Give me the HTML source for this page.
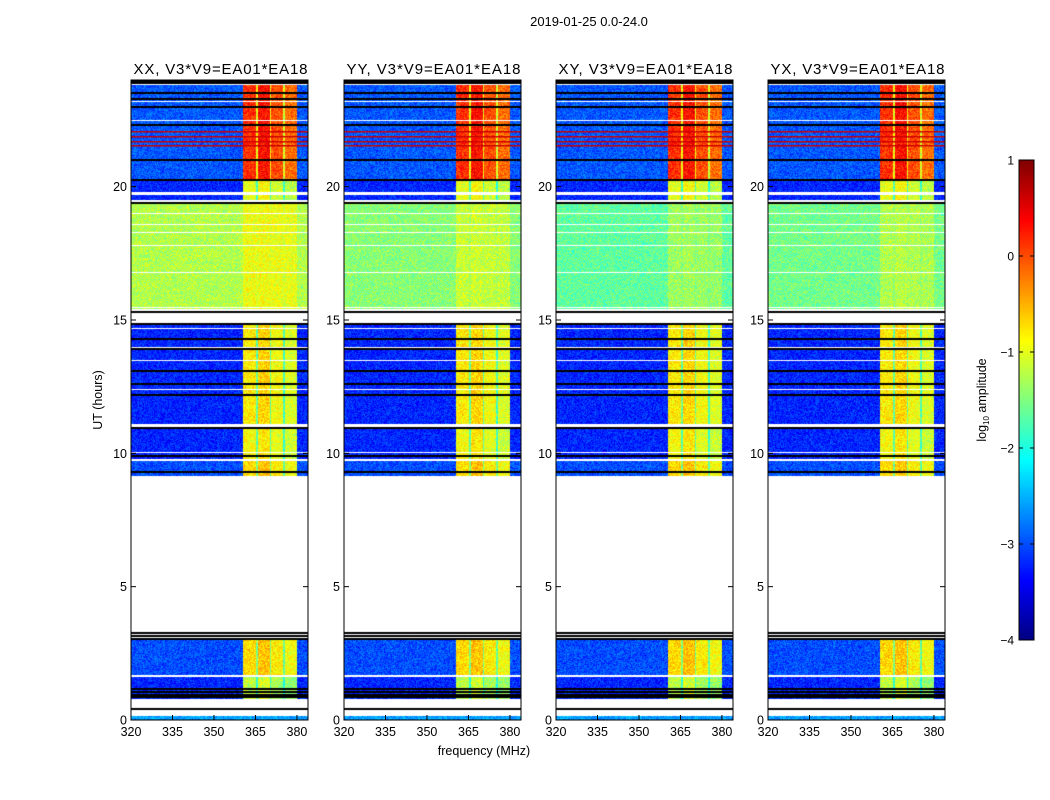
<!DOCTYPE html>
<html><head><meta charset="utf-8"><style>
body{margin:0;background:#fff;width:1050px;height:800px;overflow:hidden;font-family:"Liberation Sans",sans-serif}
#wrap{position:relative;width:1050px;height:800px}
canvas{position:absolute}
svg{position:absolute;left:0;top:0}
</style></head><body>
<div id="wrap">
<canvas id="c0" width="177" height="640" style="left:131px;top:80px"></canvas>
<canvas id="c1" width="177" height="640" style="left:344px;top:80px"></canvas>
<canvas id="c2" width="177" height="640" style="left:556px;top:80px"></canvas>
<canvas id="c3" width="177" height="640" style="left:768px;top:80px"></canvas>
<canvas id="cb" width="15" height="480" style="left:1019px;top:160px"></canvas>
<svg id="ov" width="1050" height="800"></svg>
</div>
<script>
// ---- data ----
const panelTitles=["XX, V3*V9=EA01*EA18","YY, V3*V9=EA01*EA18","XY, V3*V9=EA01*EA18","YX, V3*V9=EA01*EA18"];
const segStart=[0.0,0.8,1.7,9.15,9.8,10.05,11.1,15.4,19.5,19.8,20.3];
const segEnd  =[0.15,1.6,3.0,9.7,10.0,10.9,14.85,19.35,19.7,20.2,23.8];
const segLevelXX=[-2.6,-3.2,-3.0,-3.0,-3.2,-3.2,-3.2,-1.25,-3.2,-3.2,-2.95];
const segLevelYY=[-2.6,-3.2,-3.0,-3.0,-3.2,-3.2,-3.2,-1.45,-3.2,-3.2,-2.95];
const segLevelXY=[-2.6,-3.2,-3.0,-3.0,-3.2,-3.2,-3.2,-1.65,-3.2,-3.2,-2.95];
const segLevelYX=[-2.6,-3.2,-3.0,-3.0,-3.2,-3.2,-3.2,-1.55,-3.2,-3.2,-2.95];
const segBandBoost=[0,2.0,2.3,2.3,2.3,2.3,2.4,0.3,2.2,2.2,3.1];
const bandStart=[360.5,365.2,365.8,370.2,370.8,375.0,375.6];
const bandEnd  =[365.2,365.8,370.2,370.8,375.0,375.6,380.0];
const bandFactor=[1.0,0.65,1.05,0.65,0.95,0.6,0.9];
const blackLines=[0.42,0.85,0.95,1.05,1.15,3.05,3.15,3.25,9.3,9.9,10.95,12.2,12.6,13.1,13.9,14.3,14.85,15.3,19.4,20.25,21.0,22.3,23.0,23.3,23.5,23.9,23.97];
const redLines=[21.55,21.7,21.9,22.1];
const whiteLines=[11.0,12.4,13.5,14.0,14.7,15.5,16.8,17.8,18.3,18.6,19.0,22.5,23.2];
const levels=[segLevelXX,segLevelYY,segLevelXY,segLevelYX];
const xTicks=[320,335,350,365,380];
const yTicks=[0,5,10,15,20];
const cbTicks=[1,0,-1,-2,-3,-4];
// ---- scales ----
const W=177,H=640,F0=320,F1=384,T1=24;
const fx=f=>(f-F0)/(F1-F0)*W;
const ty=t=>H-t/T1*H;
function jet(v){v=Math.max(0,Math.min(1,v));
 const r=Math.min(4*v-1.5,-4*v+4.5),g=Math.min(4*v-0.5,-4*v+3.5),b=Math.min(4*v+0.5,-4*v+2.5);
 const c=x=>Math.round(255*Math.max(0,Math.min(1,x)));return [c(r),c(g),c(b)];}
function hash(a,b){let h=(a*374761393+b*668265263)|0;h=(h^(h>>>13))*1274126177|0;return ((h^(h>>>16))>>>0)/4294967296;}
for(let p=0;p<4;p++){
 const ctx=document.getElementById('c'+p).getContext('2d');
 const img=ctx.createImageData(W,H);
 for(let y=0;y<H;y++){
  const t=(H-y-0.5)/H*T1;
  let s=-1;for(let i=0;i<segStart.length;i++)if(t>=segStart[i]&&t<segEnd[i])s=i;
  for(let x=0;x<W;x++){
   const k=(y*W+x)*4;let col=[255,255,255];
   if(s>=0){
    const f=F0+(x+0.5)/W*(F1-F0);
    let v=levels[p][s]+(hash(x+p*999,y)-0.5)*0.6;
    for(let b=0;b<bandStart.length;b++)if(f>=bandStart[b]&&f<bandEnd[b])v+=segBandBoost[s]*bandFactor[b];
    col=jet((v+4)/5);
   }
   img.data[k]=col[0];img.data[k+1]=col[1];img.data[k+2]=col[2];img.data[k+3]=255;
  }
 }
 ctx.putImageData(img,0,0);
 ctx.fillStyle='#fff';
 whiteLines.forEach(t=>ctx.fillRect(0,Math.round(ty(t)),W,1));
 ctx.fillStyle='#c00';
 redLines.forEach(t=>ctx.fillRect(0,Math.round(ty(t)),W,1.5));
 ctx.fillStyle='#000';
 blackLines.forEach(t=>ctx.fillRect(0,Math.round(ty(t))-1,W,2));
}
const cb=document.getElementById('cb').getContext('2d');
for(let y=0;y<480;y++){const c=jet(1-y/480);cb.fillStyle=`rgb(${c[0]},${c[1]},${c[2]})`;cb.fillRect(0,y,15,1);}
// ---- axes ----
const NS='http://www.w3.org/2000/svg',ov=document.getElementById('ov');
function el(tag,attrs,txt){const e=document.createElementNS(NS,tag);for(const k in attrs)e.setAttribute(k,attrs[k]);if(txt!==undefined)e.textContent=txt;ov.appendChild(e);return e;}
const lefts=[131,344,556,768];
lefts.forEach((L,p)=>{
 const fr=el('rect',{x:L,y:80,width:W,height:H,fill:'none',stroke:'#000','stroke-width':1});
 
 
 const tt=el('text',{x:L+W/2+1,y:74,'text-anchor':'middle','font-size':15,textLength:174,fill:'#000'},panelTitles[p]);
 
 
 xTicks.forEach(f=>{const X=L+fx(f);
  el('line',{x1:X,y1:720,x2:X,y2:715,stroke:'#000'});
  const t=el('text',{x:X,y:736,'text-anchor':'middle','font-size':12.5},String(f));
  
  });
 yTicks.forEach(v=>{const Y=80+ty(v);
  el('line',{x1:L,y1:Y,x2:L+5,y2:Y,stroke:'#000'});el('line',{x1:L+W,y1:Y,x2:L+W-5,y2:Y,stroke:'#000'});
  const t=el('text',{x:L-4,y:Y+4.5,'text-anchor':'end','font-size':12.5},String(v));
  
  });
});
const st=el('text',{x:589,y:26,'text-anchor':'middle','font-size':13},'2019-01-25 0.0-24.0');


const xl=el('text',{x:484,y:755,'text-anchor':'middle','font-size':12.5},'frequency (MHz)');


const yl=el('text',{x:0,y:0,'text-anchor':'middle','font-size':12.5,transform:'translate(102,400) rotate(-90)'},'UT (hours)');


el('rect',{x:1019,y:160,width:15,height:480,fill:'none',stroke:'#000'});
cbTicks.forEach(v=>{const Y=160+(1-v)/5*480;
 el('line',{x1:1019,y1:Y,x2:1023,y2:Y,stroke:'#000'});el('line',{x1:1034,y1:Y,x2:1030,y2:Y,stroke:'#000'});
 const t=el('text',{x:1014,y:Y+4.5,'text-anchor':'end','font-size':12},(v<0?'\u2212':'')+Math.abs(v));
 
 });
const cl=el('text',{x:0,y:0,'font-size':12.5,'text-anchor':'middle',transform:'translate(986,400) rotate(-90)'});


cl.innerHTML='log<tspan font-size="8" dy="3">10</tspan><tspan dy="-3"> amplitude</tspan>';
</script>
</body></html>
